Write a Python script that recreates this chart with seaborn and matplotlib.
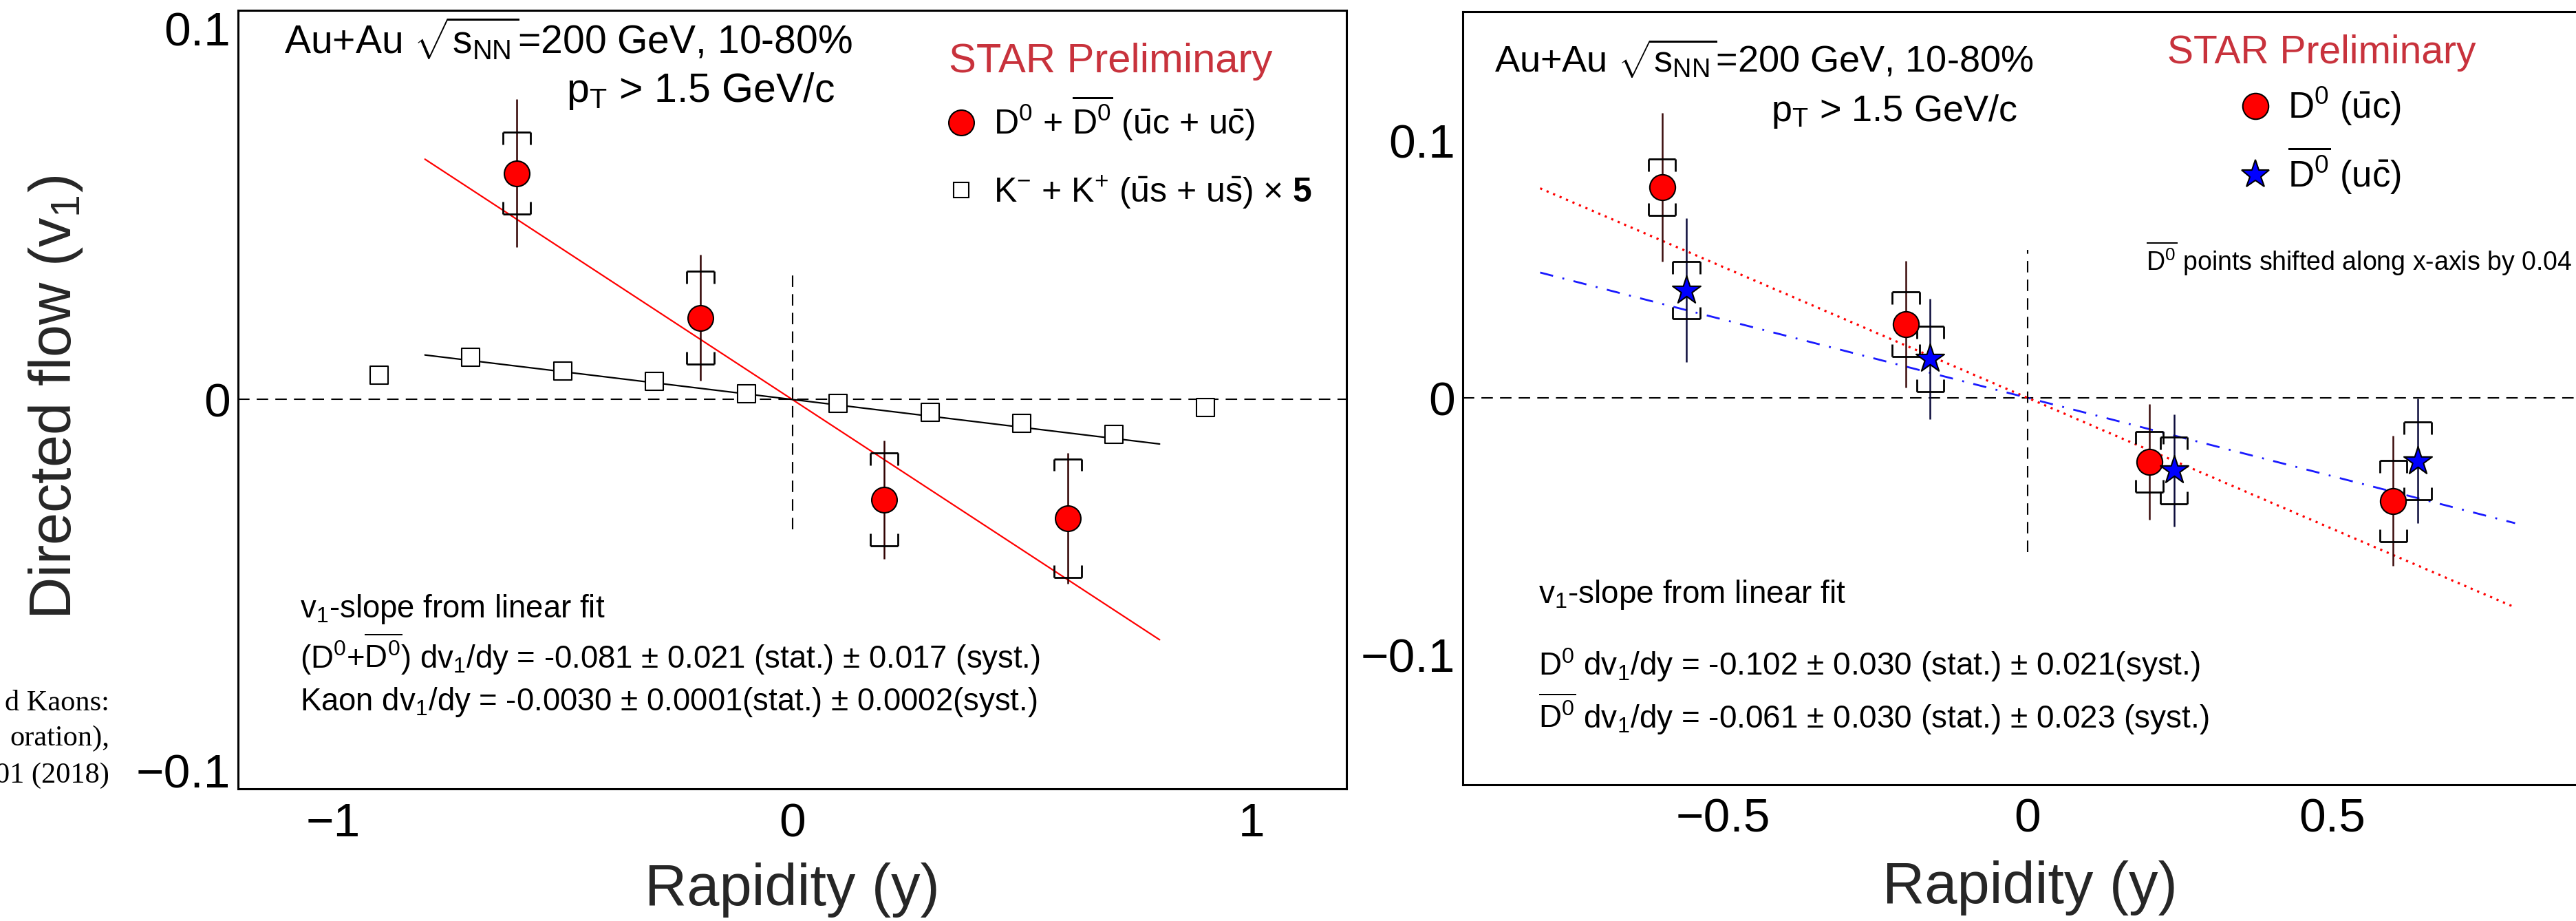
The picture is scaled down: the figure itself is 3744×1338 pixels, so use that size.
import numpy as np
import matplotlib
matplotlib.use("Agg")
import matplotlib.pyplot as plt
import seaborn as sns
from matplotlib.collections import LineCollection
from matplotlib.lines import Line2D

# ---------------- data ----------------
# Left panel: D0 + D0bar combined
d_rap = [-0.6, -0.2, 0.2, 0.6]
d_v1 = [0.061, 0.022, -0.027, -0.032]
d_stat = [0.020, 0.017, 0.016, 0.0176]
d_syst = [0.011, 0.0125, 0.0125, 0.016]
# Kaons (K- + K+), v1 multiplied by 5
k_rap = [-0.9, -0.7, -0.5, -0.3, -0.1, 0.1, 0.3, 0.5, 0.7, 0.9]
k_v1x5 = [0.0066, 0.0114, 0.0076, 0.0049, 0.0016, -0.0011, -0.0034, -0.0064, -0.0094, -0.0021]
kaon_scale = 5
# Right panel: D0 and D0bar separately
d0_rap = [-0.6, -0.2, 0.2, 0.6]
d0_v1 = [0.082, 0.0287, -0.0249, -0.0401]
d0_stat = [0.029, 0.0247, 0.0225, 0.0253]
d0_syst = [0.011, 0.0126, 0.0117, 0.0158]
d0bar_rap = [-0.6, -0.2, 0.2, 0.6]
d0bar_shift = 0.04
d0bar_v1 = [0.0419, 0.0152, -0.0282, -0.0246]
d0bar_stat = [0.028, 0.0235, 0.0218, 0.0243]
d0bar_syst = [0.0112, 0.0127, 0.0130, 0.0151]
# linear fits (slopes from the plot text)
fit_range = [-0.8, 0.8]
slope_d_comb = -0.081
slope_kaon = -0.0030
slope_d0 = -0.102
slope_d0bar = -0.061

# ---------------- style ----------------
W, H = 3744, 1338
sns.set_theme(style="white")
plt.rcParams.update({
    "font.family": ["Liberation Sans", "DejaVu Sans"],
    "mathtext.fontset": "custom",
    "mathtext.rm": "Liberation Sans",
    "mathtext.it": "Liberation Sans:italic",
    "mathtext.bf": "Liberation Sans:bold",
    "mathtext.default": "rm",
    "axes.linewidth": 2.2,
    "axes.edgecolor": "black",
    "text.color": "black",
})
STAR_RED = "#c8323c"


def fx(px):
    return px / W


def fy(py):
    return 1 - py / H


fig = plt.figure(figsize=(W / 100, H / 100), dpi=100)
fig.patch.set_facecolor("white")
axL = fig.add_axes([fx(346), fy(1146), (1957 - 346) / W, (1146 - 14.7) / H])
axR = fig.add_axes([fx(2126), fy(1139.5), (3768 - 2126) / W, (1139.5 - 16.5) / H])


def style_axis(ax):
    ax.set_facecolor("white")
    ax.grid(False)
    for s in ax.spines.values():
        s.set_linewidth(2.2)
        s.set_color("black")
    ax.tick_params(axis="both", which="both", direction="in", top=False, right=False,
                   width=1.5, labelsize=50, colors="black")
    ax.tick_params(axis="y", length=34.5, pad=8)
    ax.tick_params(axis="x", length=24, pad=14)


def draw_syst(ax, x, y, s, hw, leg, lw=2.0):
    segs = []
    for xi, yi, si in zip(x, y, s):
        top, bot = yi + si, yi - si
        segs += [[(xi - hw, top), (xi + hw, top)],
                 [(xi - hw, top), (xi - hw, top - leg)],
                 [(xi + hw, top), (xi + hw, top - leg)],
                 [(xi - hw, bot), (xi + hw, bot)],
                 [(xi - hw, bot), (xi - hw, bot + leg)],
                 [(xi + hw, bot), (xi + hw, bot + leg)]]
    ax.add_collection(LineCollection(segs, colors="black", linewidths=lw, zorder=3))


fr = np.array(fit_range)

# ================= LEFT PANEL =================
style_axis(axL)
axL.set_xlim(-1.207, 1.207)
axL.set_ylim(-0.105, 0.105)
axL.axhline(0, color="black", lw=1.5, dashes=(8, 5), zorder=1)
axL.vlines(0, -0.035, 0.035, colors="black", lw=1.5, linestyles=(0, (8, 5)), zorder=1)

sns.lineplot(x=fr, y=slope_d_comb * fr, ax=axL, color="#ff0000", linewidth=1.6, zorder=2)
sns.lineplot(x=fr, y=slope_kaon * kaon_scale * fr, ax=axL, color="black", linewidth=1.6, zorder=2)

axL.errorbar(d_rap, d_v1, yerr=d_stat, fmt="none", ecolor="#300000", elinewidth=1.8, capsize=0, zorder=3)
draw_syst(axL, d_rap, d_v1, d_syst, hw=0.0296, leg=0.0033)
sns.scatterplot(x=k_rap, y=k_v1x5, ax=axL, marker="s", s=377, color="white",
                edgecolor="black", linewidth=1.5, zorder=4, legend=False)
sns.scatterplot(x=d_rap, y=d_v1, ax=axL, marker="o", s=708, color="#ff0000",
                edgecolor="black", linewidth=1.5, zorder=5, legend=False)

axL.set_xticks([-1, 0, 1])
axL.set_xticklabels(["\u22121", "0", "1"])
axL.set_yticks([-0.1, 0, 0.1])
axL.set_yticklabels(["\u22120.1", "0", "0.1"])

axL.set_xlabel("Rapidity (y)", fontsize=61)
axL.xaxis.label.set_va("baseline")
axL.xaxis.set_label_coords(0.5, -(1315 - 1146) / (1146 - 14.7))
axL.set_ylabel(r"Directed flow (v$_{1}$)", fontsize=61)
axL.yaxis.label.set_rotation_mode("anchor")
axL.yaxis.label.set_va("baseline")
axL.yaxis.label.set_ha("center")
axL.yaxis.set_label_coords((103 - 346) / (1957 - 346), (1146 - 577) / (1146 - 14.7))

fig.text(fx(413), fy(78), r"Au+Au $\sqrt{s_{NN}}$=200 GeV, 10-80%", fontsize=41, va="baseline")
fig.text(fx(823), fy(148), r"p$_{T}$ > 1.5 GeV/c", fontsize=42.5, va="baseline")
fig.text(fx(1379), fy(105), "STAR Preliminary", fontsize=43, color=STAR_RED, va="baseline")

fig.text(fx(436), fy(897), r"v$_{1}$-slope from linear fit", fontsize=32.8, va="baseline")
fig.text(fx(436), fy(971), r"(D$^{0}$+$\overline{\mathrm{D}^{0}}$) dv$_{1}$/dy = -0.081 $\pm$ 0.021 (stat.) $\pm$ 0.017 (syst.)",
         fontsize=32.8, va="baseline")
fig.text(fx(436), fy(1032), r"Kaon dv$_{1}$/dy = -0.0030 $\pm$ 0.0001(stat.) $\pm$ 0.0002(syst.)",
         fontsize=32.8, va="baseline")

# fragments of slide text visible at the left edge of the picture
for txt, yb in [("d Kaons:", 1032), ("oration),", 1083), ("01 (2018)", 1137)]:
    fig.text(fx(159), fy(yb), txt, fontsize=30.5, ha="right", va="baseline",
             family=["Liberation Serif", "DejaVu Serif"])

hL = [Line2D([], [], marker="o", ls="none", markersize=26.6, mfc="#ff0000", mec="black", mew=1.5),
      Line2D([], [], marker="s", ls="none", markersize=16.5, mfc="white", mec="black", mew=1.5)]
labL = [r"D$^{0}$ + $\overline{\mathrm{D}^{0}}$ ($\bar{\mathrm{u}}$c + u$\bar{\mathrm{c}}$)",
        r"K$^{-}$ + K$^{+}$ ($\bar{\mathrm{u}}$s + u$\bar{\mathrm{s}}$) $\times$ $\mathbf{5}$"]
axL.legend(hL, labL, loc="upper left", bbox_to_anchor=(fx(1372), fy(137)), bbox_transform=fig.transFigure,
           frameon=False, fontsize=36, handlelength=1.0, handletextpad=0.44, labelspacing=0.9,
           borderpad=0, borderaxespad=0)

# ================= RIGHT PANEL =================
style_axis(axR)
axR.set_xlim(-0.927, 0.927)
axR.set_ylim(-0.1505, 0.1505)
axR.axhline(0, color="black", lw=1.5, dashes=(8, 5), zorder=1)
axR.vlines(0, -0.06, 0.0575, colors="black", lw=1.5, linestyles=(0, (8, 5)), zorder=1)

sns.lineplot(x=fr, y=slope_d0 * fr, ax=axR, color="#ff0000", linewidth=2.3,
             linestyle=(0, (1, 2.2)), zorder=2)
sns.lineplot(x=fr, y=slope_d0bar * fr, ax=axR, color="#1a1aff", linewidth=2.0,
             linestyle=(0, (7, 5, 1, 5)), zorder=2)

d0bar_x = np.array(d0bar_rap) + d0bar_shift
axR.errorbar(d0_rap, d0_v1, yerr=d0_stat, fmt="none", ecolor="#3b0b0b", elinewidth=1.8, capsize=0, zorder=3)
axR.errorbar(d0bar_x, d0bar_v1, yerr=d0bar_stat, fmt="none", ecolor="#0b0b3b", elinewidth=1.8, capsize=0, zorder=3)
draw_syst(axR, d0_rap, d0_v1, d0_syst, hw=0.0223, leg=0.0048)
draw_syst(axR, d0bar_x, d0bar_v1, d0bar_syst, hw=0.0223, leg=0.0048)
sns.scatterplot(x=d0_rap, y=d0_v1, ax=axR, marker="o", s=720, color="#ff0000",
                edgecolor="black", linewidth=1.5, zorder=5, legend=False)
sns.scatterplot(x=d0bar_x, y=d0bar_v1, ax=axR, marker="*", s=961, color="#0000ff",
                edgecolor="black", linewidth=1.5, zorder=5, legend=False)

axR.set_xticks([-0.5, 0, 0.5])
axR.set_xticklabels(["\u22120.5", "0", "0.5"])
axR.set_yticks([-0.1, 0, 0.1])
axR.set_yticklabels(["\u22120.1", "0", "0.1"])
axR.set_ylabel("")
axR.set_xlabel("Rapidity (y)", fontsize=61)
axR.xaxis.label.set_va("baseline")
axR.xaxis.set_label_coords((2950 - 2126) / (3768 - 2126), -(1312 - 1139.5) / (1139.5 - 16.5))

fig.text(fx(2172), fy(106), r"Au+Au $\sqrt{s_{NN}}$=200 GeV, 10-80%", fontsize=39, va="baseline")
fig.text(fx(2574), fy(176), r"p$_{T}$ > 1.5 GeV/c", fontsize=39, va="baseline")
fig.text(fx(3150), fy(91.5), "STAR Preliminary", fontsize=41, color=STAR_RED, va="baseline")
fig.text(fx(3119), fy(393), r"$\overline{\mathrm{D}^{0}}$ points shifted along x-axis by 0.04", fontsize=27, va="baseline")

fig.text(fx(2236), fy(876), r"v$_{1}$-slope from linear fit", fontsize=33, va="baseline")
fig.text(fx(2236), fy(981), r"D$^{0}$ dv$_{1}$/dy = -0.102 $\pm$ 0.030 (stat.) $\pm$ 0.021(syst.)",
         fontsize=33, va="baseline")
fig.text(fx(2236), fy(1058), r"$\overline{\mathrm{D}^{0}}$ dv$_{1}$/dy = -0.061 $\pm$ 0.030 (stat.) $\pm$ 0.023 (syst.)",
         fontsize=33, va="baseline")

hR = [Line2D([], [], marker="o", ls="none", markersize=27, mfc="#ff0000", mec="black", mew=1.5),
      Line2D([], [], marker="*", ls="none", markersize=31, mfc="#0000ff", mec="black", mew=1.5)]
labR = [r"D$^{0}$ ($\bar{\mathrm{u}}$c)", r"$\overline{\mathrm{D}^{0}}$ (u$\bar{\mathrm{c}}$)"]
axR.legend(hR, labR, loc="upper left", bbox_to_anchor=(fx(3252), fy(124)), bbox_transform=fig.transFigure,
           frameon=False, fontsize=38, handlelength=1.0, handletextpad=0.39, labelspacing=0.49,
           borderpad=0, borderaxespad=0)

fig.savefig("out.png", dpi=100, facecolor="white")
